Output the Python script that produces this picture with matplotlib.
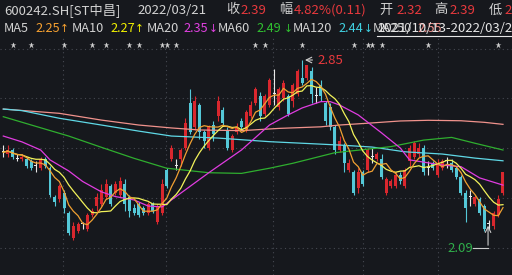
import matplotlib
matplotlib.use('Agg')
import matplotlib.pyplot as plt
import numpy as np
import pandas as pd

# daily candles, 600242.SH, oldest first
opens = [2.44, 2.43, 2.45, 2.41, 2.41, 2.41, 2.40, 2.38, 2.37, 2.41,
         2.37, 2.24, 2.23, 2.26, 2.17, 2.06, 2.09, 2.12, 2.10, 2.16,
         2.20, 2.21, 2.24, 2.29, 2.26, 2.25, 2.30, 2.24, 2.19, 2.21,
         2.19, 2.17, 2.21, 2.13, 2.17, 2.36, 2.41, 2.38, 2.41, 2.46,
         2.66, 2.55, 2.65, 2.53, 2.46, 2.56, 2.60, 2.63, 2.54, 2.45,
         2.53, 2.58, 2.54, 2.60, 2.66, 2.69, 2.61, 2.65, 2.70, 2.64,
         2.68, 2.69, 2.67, 2.70, 2.77, 2.77, 2.80, 2.69, 2.74, 2.66,
         2.64, 2.55, 2.45, 2.47, 2.36, 2.35, 2.28, 2.35, 2.36, 2.42,
         2.41, 2.41, 2.26, 2.29, 2.29, 2.34, 2.29, 2.40, 2.42, 2.43,
         2.46, 2.37, 2.39, 2.34, 2.37, 2.40, 2.39, 2.37, 2.33, 2.26,
         2.24, 2.21, 2.23, 2.20, 2.12, 2.11, 2.16, 2.26]
closes = [2.44, 2.45, 2.42, 2.41, 2.42, 2.38, 2.37, 2.38, 2.41, 2.38,
          2.25, 2.22, 2.29, 2.19, 2.08, 2.11, 2.12, 2.12, 2.16, 2.18,
          2.24, 2.27, 2.30, 2.21, 2.30, 2.31, 2.21, 2.18, 2.17, 2.16,
          2.17, 2.21, 2.18, 2.20, 2.30, 2.29, 2.46, 2.38, 2.45, 2.57,
          2.53, 2.67, 2.53, 2.49, 2.55, 2.52, 2.67, 2.57, 2.46, 2.51,
          2.55, 2.55, 2.62, 2.65, 2.72, 2.60, 2.69, 2.76, 2.70, 2.72,
          2.75, 2.61, 2.74, 2.80, 2.75, 2.83, 2.70, 2.69, 2.69, 2.58,
          2.55, 2.45, 2.49, 2.39, 2.39, 2.26, 2.35, 2.30, 2.45, 2.42,
          2.43, 2.33, 2.32, 2.31, 2.34, 2.31, 2.36, 2.46, 2.48, 2.46,
          2.35, 2.37, 2.37, 2.39, 2.40, 2.40, 2.36, 2.33, 2.26, 2.19,
          2.24, 2.24, 2.17, 2.10, 2.12, 2.17, 2.23, 2.35]
highs = [2.47, 2.47, 2.46, 2.43, 2.43, 2.42, 2.41, 2.40, 2.42, 2.42,
         2.38, 2.25, 2.30, 2.27, 2.18, 2.13, 2.13, 2.13, 2.17, 2.19,
         2.26, 2.30, 2.32, 2.30, 2.31, 2.33, 2.32, 2.25, 2.21, 2.22,
         2.20, 2.22, 2.22, 2.21, 2.32, 2.37, 2.47, 2.41, 2.46, 2.59,
         2.72, 2.69, 2.66, 2.54, 2.56, 2.58, 2.69, 2.64, 2.55, 2.52,
         2.57, 2.59, 2.63, 2.67, 2.73, 2.71, 2.70, 2.77, 2.81, 2.73,
         2.76, 2.70, 2.75, 2.81, 2.85, 2.83, 2.82, 2.73, 2.76, 2.67,
         2.66, 2.56, 2.51, 2.48, 2.41, 2.36, 2.37, 2.36, 2.46, 2.46,
         2.44, 2.43, 2.33, 2.32, 2.35, 2.35, 2.37, 2.47, 2.49, 2.48,
         2.47, 2.40, 2.40, 2.41, 2.41, 2.42, 2.41, 2.38, 2.34, 2.27,
         2.27, 2.25, 2.24, 2.21, 2.14, 2.18, 2.25, 2.35]
lows = [2.42, 2.42, 2.41, 2.40, 2.40, 2.37, 2.36, 2.35, 2.36, 2.37,
        2.24, 2.20, 2.22, 2.17, 2.07, 2.05, 2.08, 2.10, 2.09, 2.15,
        2.18, 2.20, 2.23, 2.20, 2.25, 2.24, 2.18, 2.15, 2.16, 2.15,
        2.16, 2.16, 2.17, 2.12, 2.16, 2.28, 2.40, 2.36, 2.38, 2.45,
        2.52, 2.54, 2.50, 2.46, 2.45, 2.49, 2.58, 2.56, 2.45, 2.44,
        2.52, 2.54, 2.53, 2.59, 2.65, 2.58, 2.60, 2.64, 2.65, 2.63,
        2.67, 2.60, 2.64, 2.69, 2.74, 2.76, 2.66, 2.66, 2.67, 2.56,
        2.54, 2.43, 2.44, 2.35, 2.35, 2.25, 2.26, 2.29, 2.35, 2.39,
        2.40, 2.32, 2.25, 2.28, 2.28, 2.30, 2.28, 2.38, 2.41, 2.42,
        2.34, 2.34, 2.36, 2.33, 2.36, 2.37, 2.35, 2.32, 2.25, 2.13,
        2.20, 2.20, 2.16, 2.09, 2.10, 2.10, 2.15, 2.25]

# longer averages (candle index, price)
ma20_idx = [0, 4, 8, 10, 14, 17, 21, 24, 28, 31, 34, 36, 44, 51, 57, 61, 64,
            68, 70, 72, 76, 81, 85, 87, 94, 98, 102, 107]
ma20_val = [2.512, 2.486, 2.45, 2.406, 2.357, 2.31, 2.264, 2.243, 2.228, 2.201,
            2.197, 2.228, 2.349, 2.45, 2.561, 2.606, 2.637, 2.665, 2.665, 2.65,
            2.606, 2.526, 2.459, 2.406, 2.383, 2.376, 2.326, 2.294]
ma60_idx = [0, 6, 14, 21, 28, 35, 44, 51, 57, 62, 71, 83, 90, 96, 101, 107]
ma60_val = [2.598, 2.561, 2.512, 2.462, 2.413, 2.369, 2.349, 2.346, 2.369,
            2.391, 2.438, 2.465, 2.494, 2.506, 2.48, 2.45]
ma120_idx = [0, 4, 12, 21, 29, 36, 46, 57, 72, 79, 86, 94, 101, 107]
ma120_val = [2.632, 2.625, 2.591, 2.561, 2.534, 2.512, 2.503, 2.487, 2.472,
             2.463, 2.442, 2.432, 2.414, 2.402]
ma250_idx = [0, 12, 21, 29, 36, 42, 51, 59, 68, 72, 78, 85, 91, 98, 103, 107]
ma250_val = [2.632, 2.613, 2.583, 2.561, 2.548, 2.539, 2.536, 2.546, 2.553,
             2.561, 2.569, 2.579, 2.582, 2.58, 2.573, 2.564]

star_idx = [2, 6, 13, 19, 22, 27, 29, 34, 35, 37, 54, 56, 64, 75, 78, 79, 81, 91, 106]
month_lines = [12.8, 34.8, 57.8, 77.0, 93.1]

BG = '#16181d'
UP = '#d9272e'
DOWN = '#54c8d8'
FLAT = '#e8e8e8'
GRAY = '#d2d2d2'
RED = '#e8393d'
FS = 9.5
FS2 = 9.2
plt.rcParams['font.family'] = ['Noto Sans CJK SC', 'DejaVu Sans']

o = np.array(opens)
c = np.array(closes)
h = np.array(highs)
l = np.array(lows)
n = len(c)
idx = np.arange(n)
ma5 = pd.Series(c).rolling(5, min_periods=1).mean()
ma10 = pd.Series(c).rolling(10, min_periods=1).mean()

fig = plt.figure(figsize=(5.12, 2.75), dpi=100, facecolor=BG)
ax = fig.add_axes([0, 0, 1, 1])
ax.set_facecolor(BG)
ax.set_xlim(-0.707, 108.93)
ax.set_ylim(1.8944, 3.1167)
ax.axis('off')

grid_kw = dict(color='#464952', lw=0.8, linestyle=(0, (1, 3)), zorder=1)
for gy in [2.901, 2.681, 2.459, 2.237, 2.014]:
    ax.axhline(gy, **grid_kw)
for gx in month_lines:
    ax.plot([gx, gx], [1.8944, 2.9611], **grid_kw)

cols = np.where(c > o, UP, np.where(c < o, DOWN, FLAT))
ax.vlines(idx, l, h, colors=cols, lw=0.8, zorder=2)
body = np.abs(c - o)
body = np.where(body < 0.004, 0.004, body)
ax.bar(idx, body, bottom=np.minimum(o, c), width=0.64, color=cols,
       linewidth=0, zorder=3)

ax.plot(ma250_idx, ma250_val, color='#f0928c', lw=0.9, zorder=4)
ax.plot(ma120_idx, ma120_val, color='#5fd8e6', lw=0.9, zorder=4)
ax.plot(ma60_idx, ma60_val, color='#2fae2f', lw=0.9, zorder=4)
ax.plot(ma20_idx, ma20_val, color='#e03ce0', lw=0.9, zorder=4)
ax.plot(idx, ma10, color='#f2f25a', lw=0.9, zorder=5)
ax.plot(idx, ma5, color='#f0a032', lw=0.9, zorder=5)

ax.plot(star_idx, [2.9167] * len(star_idx), linestyle='none', marker='*',
        ms=4.5, color='#cfcfcf', mec='none', zorder=6)

# high / low markers
hi = int(np.argmax(h))
ax.annotate('', xy=(hi, 2.85), xytext=(hi + 2.8, 2.85),
            arrowprops=dict(arrowstyle='->', color='#cccccc', lw=0.8))
ax.text(hi + 3.2, 2.85, '2.85', color=RED, fontsize=FS, va='center', ha='left')
ax.plot([100.6, 103.8], [2.0144, 2.0144], color='#cccccc', lw=0.8)
ax.annotate('', xy=(103.8, 2.126), xytext=(103.8, 2.0144),
            arrowprops=dict(arrowstyle='->', color='#cccccc', lw=0.8))
ax.text(100.6, 2.0144, '2.09', color='#2fae4a', fontsize=FS, va='center', ha='right')


def ftext(x, y, s, color=GRAY, size=FS, **kw):
    fig.text(x / 512, 1 - y / 275, s, color=color, fontsize=size,
             va='center', ha='left', **kw)


ftext(4, 10, '600242.SH[ST中昌]')
ftext(137, 10, '2022/03/21')
ftext(226, 10, '收')
ftext(240, 10, '2.39', RED)
ftext(279, 10, '幅')
ftext(294, 10, '4.82%(0.11)', RED)
ftext(379, 10, '开')
ftext(396, 10, '2.32', RED)
ftext(434, 10, '高')
ftext(449, 10, '2.39', RED)
ftext(489, 10, '低')
ftext(504, 10, '2.', RED)

ma_labels = [('MA5', 4, '2.25', 35, '↑', 59.5, '#f5a030'),
             ('MA10', 72, '2.27', 110, '↑', 135, '#f0f000'),
             ('MA20', 147, '2.35', 183, '↓', 208.5, '#e040e0'),
             ('MA60', 218, '2.49', 256, '↓', 283.5, '#30c030'),
             ('MA120', 293, '2.44', 338, '↓', 363.5, '#40d0e0'),
             ('MA250', 373, '2.55', 417, '', 0, '#f0928c')]
for name, nx, val, vx, arr, axx, col in ma_labels:
    ftext(nx, 29, name, size=FS2)
    ftext(vx, 29, val, col, size=FS2)
    if arr:
        ftext(axx, 29, arr, col, size=FS2 - 1.5, family='DejaVu Sans')
ftext(377, 29, '2021/10/13-2022/03/21', '#e6e6e6', size=FS)
fig.add_artist(plt.Line2D([377 / 512, 1], [1 - 36 / 275, 1 - 36 / 275],
                          color='#e6e6e6', lw=0.8))

fig.savefig('out.png', dpi=100, facecolor=BG)
